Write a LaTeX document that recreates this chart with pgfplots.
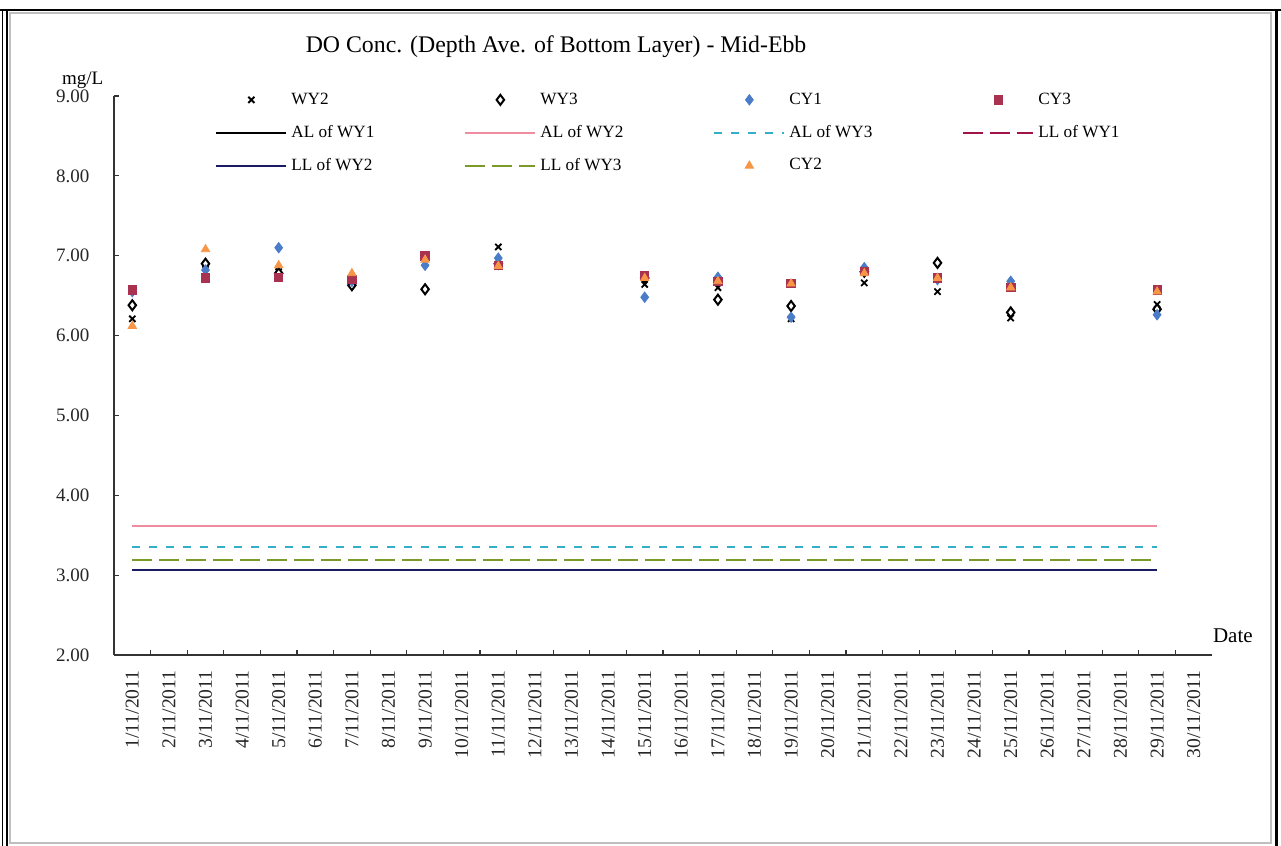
\documentclass[border=0pt]{standalone}
\usepackage{pgfplots}
\pgfplotsset{compat=1.18}
\usepackage{pgfplotstable}
\usepackage{fontspec}
\setmainfont{Liberation Serif}
\definecolor{cyone}{HTML}{4A7CC8}
\definecolor{cythree}{HTML}{A83250}
\definecolor{cytwo}{HTML}{F79646}
\definecolor{alpink}{HTML}{F08CA0}
\definecolor{alcyan}{HTML}{33AFC8}
\definecolor{lldred}{HTML}{A0144A}
\definecolor{llnavy}{HTML}{1A1A66}
\definecolor{llolive}{HTML}{7A9A2A}

\pgfplotstableread{
cat WY2 WY3 CY1 CY3 CY2
1 6.21 6.38 6.55 6.57 6.12
3 6.89 6.90 6.82 6.72 7.08
5 6.80 6.78 7.10 6.73 6.88
7 6.66 6.63 6.68 6.70 6.78
9 6.98 6.58 6.88 7.00 6.95
11 7.11 6.90 6.97 6.88 6.87
15 6.64 6.72 6.48 6.75 6.72
17 6.60 6.45 6.73 6.68 6.68
19 6.21 6.37 6.23 6.65 6.65
21 6.66 6.80 6.85 6.80 6.78
23 6.55 6.91 6.70 6.72 6.72
25 6.22 6.29 6.68 6.60 6.60
29 6.39 6.33 6.26 6.57 6.55
}\obs

\pgfplotstableread{
x AL1 AL2 AL3 LL1 LL2 LL3
1 3.07 3.62 3.35 3.19 3.07 3.19
29 3.07 3.62 3.35 3.19 3.07 3.19
}\lims

\pgfplotsset{
  lineleg/.style={legend image code/.code={\draw[##1] (0pt,0pt) -- (35pt,0pt);}},
  markleg/.style={legend image code/.code={\draw[mark repeat=2,mark phase=2,##1] plot coordinates {(0pt,0pt)(17.5pt,0pt)(35pt,0pt)};}},
}

\begin{document}
\begin{tikzpicture}[x=1pt,y=1pt]
\path[use as bounding box] (0,0) rectangle (640.5,423);
\draw[black!25, line width=0.6pt] (5,1.5) rectangle (635.5,416.5);
\draw[black, line width=1.2pt] (0,418) -- (640.5,418);
\draw[black, line width=0.8pt] (1.2,0) -- (1.2,418);
\draw[black, line width=0.8pt] (3.6,0) -- (3.6,418);
\draw[black, line width=1.5pt] (638,0) -- (638,418);
\begin{axis}[
  at={(57pt,95.5pt)}, anchor=south west,
  scale only axis, width=549pt, height=279.5pt,
  xmin=0.5, xmax=30.5, ymin=2, ymax=9,
  axis x line*=bottom, axis y line*=left,
  axis line style={-, black!80, line width=0.6pt},
  xtick={1,...,30},
  xticklabels={1/11/2011,2/11/2011,3/11/2011,4/11/2011,5/11/2011,6/11/2011,7/11/2011,8/11/2011,9/11/2011,10/11/2011,11/11/2011,12/11/2011,13/11/2011,14/11/2011,15/11/2011,16/11/2011,17/11/2011,18/11/2011,19/11/2011,20/11/2011,21/11/2011,22/11/2011,23/11/2011,24/11/2011,25/11/2011,26/11/2011,27/11/2011,28/11/2011,29/11/2011,30/11/2011},
  major x tick style={draw=none},
  minor xtick={1.5,2.5,...,29.5},
  minor tick length=2.5pt, major tick length=2.5pt,
  tick style={black!80, line width=0.6pt},
  ytick={2,...,9},
  yticklabel style={/pgf/number format/fixed, /pgf/number format/fixed zerofill, /pgf/number format/precision=2, /pgf/number format/assume math mode=true, xshift=-8.8pt, font=\fontsize{9.5}{11}\selectfont},
  tick label style={text=black!85},
  xticklabel style={rotate=90, anchor=east, xshift=-4.2pt, font=\fontsize{9.8}{11}\selectfont},
  title={DO Conc. (Depth Ave. of Bottom Layer) - Mid-Ebb},
  title style={at={(rel axis cs:0.4026,1.056)}, anchor=base, font=\fontsize{11.9}{13}\selectfont},
  ylabel={mg/L},
  every axis y label/.style={at={(rel axis cs:-0.0537,1.021)}, anchor=base west, font=\fontsize{9.5}{11}\selectfont},
  xlabel={Date},
  every axis x label/.style={at={(rel axis cs:0.9945,0.023)}, anchor=base west, font=\fontsize{10.5}{12}\selectfont},
  legend columns=4,
  legend style={draw=none, fill=none, at={(rel axis cs:0.0865,1.021)}, anchor=north west,
    font=\fontsize{8.6}{10}\selectfont, row sep=5pt,
    /tikz/every even column/.append style={column sep=0pt}},
  clip=false,
]
\addplot[only marks, mark=x, mark size=2.2pt, black, line width=0.9pt, markleg] table[x=cat, y=WY2] {\obs};
\addlegendentry{\makebox[84.5pt][l]{WY2}}
\addplot[only marks, mark=diamond*, mark size=2.5pt, mark options={fill=white, draw=black, line width=1pt}, markleg] table[x=cat, y=WY3] {\obs};
\addlegendentry{\makebox[84.5pt][l]{WY3}}
\addplot[only marks, mark=diamond*, mark size=2.6pt, cyone, markleg] table[x=cat, y=CY1] {\obs};
\addlegendentry{\makebox[84.5pt][l]{CY1}}
\addplot[only marks, mark=square*, mark size=2.1pt, cythree, markleg] table[x=cat, y=CY3] {\obs};
\addlegendentry{\makebox[84.5pt][l]{CY3}}
\addplot[black, line width=0.9pt, lineleg] table[x=x, y=AL1] {\lims};
\addlegendentry{\makebox[84.5pt][l]{AL of WY1}}
\addplot[alpink, line width=0.9pt, lineleg] table[x=x, y=AL2] {\lims};
\addlegendentry{\makebox[84.5pt][l]{AL of WY2}}
\addplot[alcyan, line width=1pt, dash pattern=on 4pt off 4.5pt, lineleg] table[x=x, y=AL3] {\lims};
\addlegendentry{\makebox[84.5pt][l]{AL of WY3}}
\addplot[lldred, line width=1pt, dash pattern=on 10pt off 3.5pt, lineleg] table[x=x, y=LL1] {\lims};
\addlegendentry{\makebox[84.5pt][l]{LL of WY1}}
\addplot[llnavy, line width=1pt, lineleg] table[x=x, y=LL2] {\lims};
\addlegendentry{\makebox[84.5pt][l]{LL of WY2}}
\addplot[llolive, line width=1pt, dash pattern=on 10pt off 3.5pt, lineleg] table[x=x, y=LL3] {\lims};
\addlegendentry{\makebox[84.5pt][l]{LL of WY3}}
\addplot[only marks, mark=triangle*, mark size=2.4pt, cytwo, markleg] table[x=cat, y=CY2] {\obs};
\addlegendentry{\makebox[84.5pt][l]{CY2}}
\end{axis}
\end{tikzpicture}
\end{document}
